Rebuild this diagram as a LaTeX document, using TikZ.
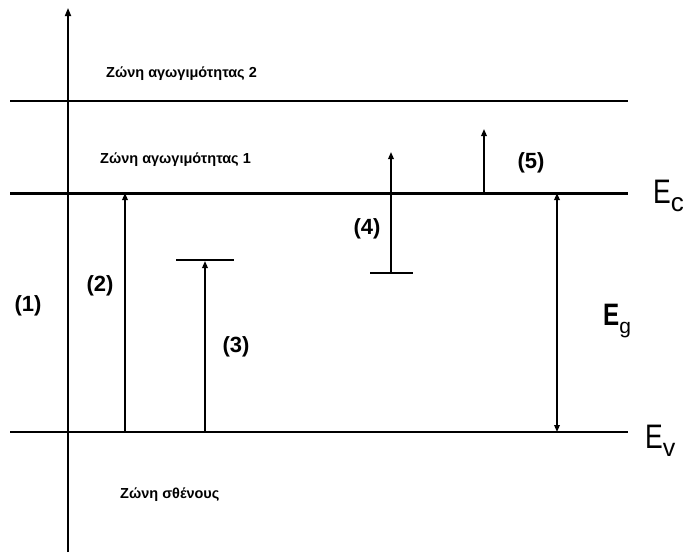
\documentclass[tikz,border=0pt]{standalone}
\usepackage{fontspec}
\usepackage{graphicx}
\setmainfont{Liberation Sans}
\usetikzlibrary{arrows.meta}
% narrow band-edge symbol with a lowered subscript
\newcommand{\bandsym}[4]{{\fontsize{#1}{#1}\selectfont\scalebox{0.78}[1]{#2}}\raisebox{-8pt}{\fontsize{#3}{#3}\selectfont #4}}
\begin{document}
\begin{tikzpicture}[x=1pt,y=-1pt,
  level/.style={line width=2pt},
  trans/.style={line width=1.6pt,-{Triangle[length=7pt,width=5.5pt]}},
  bar/.style={line width=1.6pt},
  zone/.style={font=\fontsize{14.5}{16}\selectfont\bfseries,anchor=base west,inner sep=0pt},
  num/.style={font=\fontsize{22}{24}\selectfont\bfseries,inner sep=0pt},
  band/.style={anchor=base west,inner sep=0pt}]
\useasboundingbox (0,0) rectangle (683,552);
% energy axis
\coordinate (axb) at (68,552);
\coordinate (axt) at (68,8);
\draw[line width=1.6pt,-{Triangle[length=8pt,width=6pt]}] (axb) -- (axt);
% band edges
\coordinate (l2a) at (10,101); \coordinate (l2b) at (628,101);
\coordinate (eca) at (10,193); \coordinate (ecb) at (628,193);
\coordinate (eva) at (10,432); \coordinate (evb) at (628,432);
\draw[level] (l2a) -- (l2b);
\draw[line width=3pt] (eca) -- (ecb);
\draw[level] (eva) -- (evb);
% band names
\node[zone] (z2) at (106,77) {Ζώνη αγωγιμότητας 2};
\node[zone] (z1) at (100,163.5) {Ζώνη αγωγιμότητας 1};
\node[zone] (zv) at (120,498.5) {Ζώνη σθένους};
\node[band] (ec) at (653,203) {\bandsym{34}{E}{26}{c}};
\node[band] (ev) at (645,448) {\bandsym{34}{E}{25}{v}};
% (2) band to band
\coordinate (t2a) at (125,432); \coordinate (t2b) at (125,193);
\draw[trans] (t2a) -- (t2b);
\node[num] (n2) at (100,286) {(2)};
% (3) valence band to level
\coordinate (t3a) at (205,432); \coordinate (t3b) at (205,261);
\coordinate (b3a) at (176,260); \coordinate (b3b) at (234,260);
\draw[bar] (b3a) -- (b3b);
\draw[trans] (t3a) -- (t3b);
\node[num] (n3) at (236,347) {(3)};
% (4) level to conduction band 1
\coordinate (t4a) at (391,273); \coordinate (t4b) at (391,152);
\coordinate (b4a) at (370,273); \coordinate (b4b) at (413,273);
\draw[bar] (b4a) -- (b4b);
\draw[trans] (t4a) -- (t4b);
\node[num] (n4) at (367,229) {(4)};
% (5) within conduction band
\coordinate (t5a) at (484,193); \coordinate (t5b) at (484,129);
\draw[trans] (t5a) -- (t5b);
\node[num] (n5) at (531,163) {(5)};
% (1)
\node[num] (n1) at (28,306) {(1)};
% band gap
\coordinate (ga) at (557,193); \coordinate (gb) at (557,432);
\draw[line width=1.6pt,{Triangle[length=7pt,width=5.5pt]}-{Triangle[length=7pt,width=5.5pt]}] (ga) -- (gb);
\node[band] (eg) at (603,325) {\bandsym{31}{\bfseries E}{21}{g}};
\end{tikzpicture}
\end{document}
